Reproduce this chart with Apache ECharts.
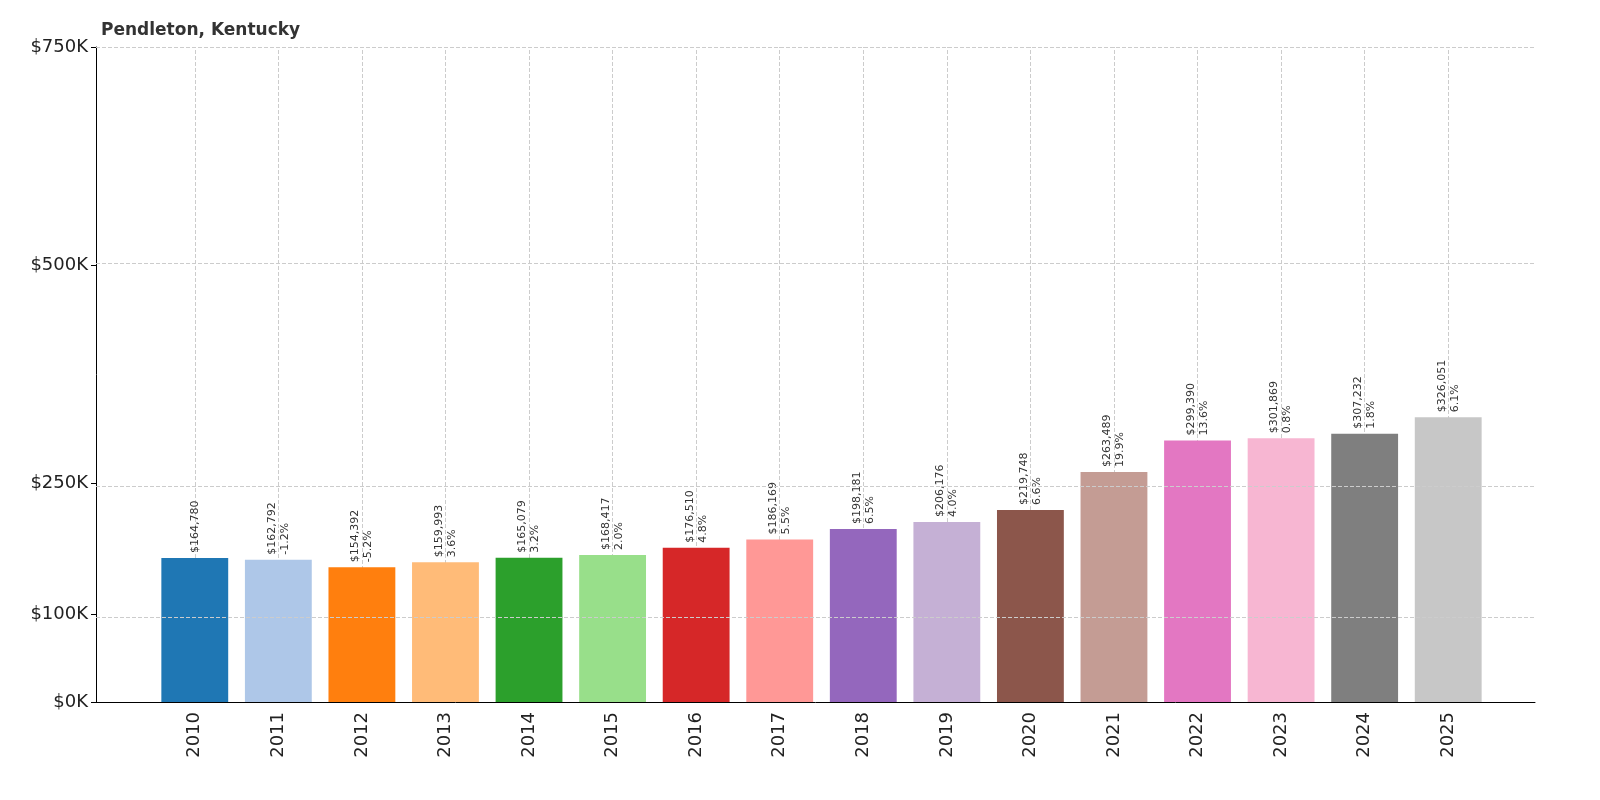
<!DOCTYPE html>
<html>
<head>
<meta charset="utf-8">
<script src="https://cdn.jsdelivr.net/npm/echarts@6/dist/echarts.min.js"></script>
<style>html,body{margin:0;padding:0;background:#fff}#main{width:1600px;height:800px}</style>
</head>
<body>
<div id="main"></div>
<script>
// values
var years = ["2010","2011","2012","2013","2014","2015","2016","2017","2018","2019","2020","2021","2022","2023","2024","2025"];
var values = [164780,162792,154392,159993,165079,168417,176510,186169,198181,206176,219748,263489,299390,301869,307232,326051];
var changes = ["","-1.2%","-5.2%","3.6%","3.2%","2.0%","4.8%","5.5%","6.5%","4.0%","6.6%","19.9%","13.6%","0.8%","1.8%","6.1%"];
var yTicks = [0,100000,250000,500000,750000];
var colors = ["#1f77b4","#aec7e8","#ff7f0e","#ffbb78","#2ca02c","#98df8a","#d62728","#ff9896","#9467bd","#c5b0d5","#8c564b","#c49c94","#e377c2","#f7b6d2","#7f7f7f","#c7c7c7"];

var mychart = echarts.init(document.getElementById("main"));
var gridDash = { color: "#cccccc", type: "dashed", width: 1 };
var option = {
  animation: false,
  title: {
    text: "Pendleton, Kentucky",
    left: 96,
    top: 17,
    textStyle: { fontFamily: "DejaVu Sans", fontSize: 17, fontWeight: "bold", color: "#333" },
  },
  grid: [
    // outer frame: axis line across the whole width
    { left: 96, right: 65, top: 47, bottom: 98, outerBoundsMode: "none", containLabel: false },
    // bars sit inside with padding on both sides
    { left: 153, right: 110, top: 47, bottom: 98, outerBoundsMode: "none", containLabel: false },
  ],
  xAxis: [
    {
      gridIndex: 0, type: "value", min: 0, max: 1,
      axisLine: { show: true, onZero: false, lineStyle: { color: "#000" } },
      axisTick: { show: false }, axisLabel: { show: false }, splitLine: { show: false },
    },
    {
      gridIndex: 1,
      type: "category",
      data: years,
      axisLine: { show: false },
      axisTick: { show: false },
      axisLabel: { rotate: 90, fontSize: 18, color: "#222", fontFamily: "DejaVu Sans", margin: 10 },
    },
  ],
  yAxis: [
    { gridIndex: 0, type: "value", show: false, min: 0, max: 1 },
    {
      gridIndex: 1,
      type: "value",
      min: 0,
      max: 750000,
      offset: 57,
      splitLine: { show: false },
      axisLine: { show: true, lineStyle: { color: "#000" } },
      axisTick: { show: true, customValues: yTicks, length: 5 },
      axisLabel: {
        customValues: yTicks,
        fontSize: 18,
        color: "#222",
        fontFamily: "DejaVu Sans",
        formatter: function (v) { return "$" + Math.round(v / 1000) + "K"; },
      },
    },
  ],
  series: [
    {
      type: "line", xAxisIndex: 0, yAxisIndex: 0, data: [],
      markLine: {
        silent: true, symbol: "none", label: { show: false }, lineStyle: gridDash,
        data: [0.1333, 0.3333, 0.6667, 1].map(function (t) { return { yAxis: t }; }),
      },
    },
    {
      type: "bar",
      xAxisIndex: 1,
      yAxisIndex: 1,
      barCategoryGap: "20%",
      data: values.map(function (v, i) { return { value: v, itemStyle: { color: colors[i] } }; }),
      label: {
        show: true,
        position: "top",
        rotate: 90,
        align: "left",
        verticalAlign: "middle",
        distance: 5,
        fontSize: 11,
        color: "#333",
        fontFamily: "DejaVu Sans",
        lineHeight: 13,
        formatter: function (p) {
          var s = "$" + p.value.toLocaleString("en-US");
          return changes[p.dataIndex] ? s + "\n" + changes[p.dataIndex] : s;
        },
      },
      markLine: {
        silent: true,
        symbol: "none",
        label: { show: false },
        lineStyle: gridDash,
        z: 0,
        data: years.map(function (y) { return { xAxis: y }; }),
      },
    },
  ],
};
mychart.setOption(option);
</script>
</body>
</html>
